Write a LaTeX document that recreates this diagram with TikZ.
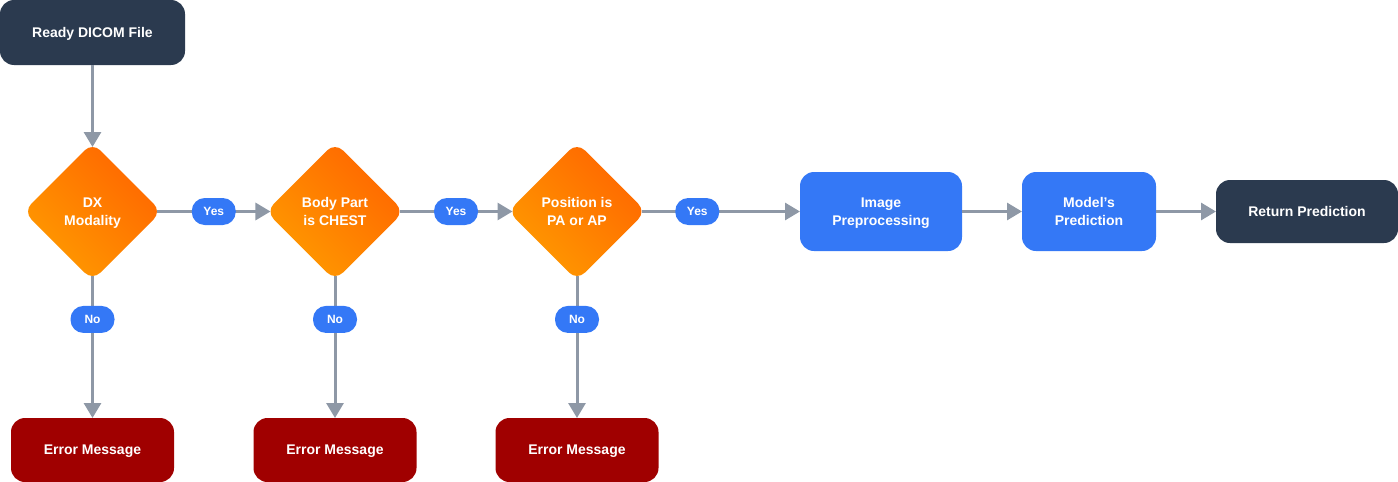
\documentclass[tikz,border=0pt]{standalone}
\usepackage{fontspec}
\setmainfont{Liberation Sans}
\usepackage{tikz}
\usetikzlibrary{shapes.geometric,arrows.meta}
\usepackage{xcolor}
\definecolor{navy}{HTML}{2B3A4F}
\definecolor{flowblue}{HTML}{3478F6}
\definecolor{errred}{HTML}{A00000}
\definecolor{orlight}{HTML}{FF9A00}
\definecolor{ordark}{HTML}{FF6600}
\definecolor{linegray}{HTML}{8E98A6}

\begin{document}
\begin{tikzpicture}[x=1pt,y=-1pt,
    box/.style={rectangle, rounded corners=14pt, text=white, align=center, text depth=0pt,
        inner sep=0pt, outer sep=0pt, font=\bfseries\fontsize{14}{17.5}\selectfont},
    darkbox/.style={box, fill=navy},
    procbox/.style={box, fill=flowblue, minimum height=79pt},
    errbox/.style={box, fill=errred, minimum width=163pt, minimum height=64pt},
    check/.style={diamond, aspect=1, rounded corners=11pt, minimum width=138pt,
        minimum height=138pt, inner sep=0pt, outer sep=0pt, text=white, align=center,
        text depth=0pt, left color=orlight, right color=ordark, shading angle=135,
        font=\bfseries\fontsize{14}{17.5}\selectfont},
    pill/.style={fill=flowblue, text=white, rounded corners=13pt, minimum width=44pt,
        minimum height=27pt, inner sep=0pt, text depth=0pt,
        font=\bfseries\fontsize{12}{13}\selectfont},
    flow/.style={draw=linegray, line width=3pt, -{Triangle[width=17pt,length=15pt]}}]

    \useasboundingbox (0,0) rectangle (1398,482);

    % start
    \node[darkbox, minimum width=185pt, minimum height=65pt] (ready) at (92.5,32.5) {Ready DICOM File};

    % checks on the file
    \node[check] (dx)   at (92.5,211.5) {DX\\Modality};
    \node[check] (body) at (335,211.5)  {Body Part\\is CHEST};
    \node[check] (pos)  at (577,211.5)  {Position is\\PA or AP};

    % error outputs
    \node[errbox] (err1) at (92.5,450) {Error Message};
    \node[errbox] (err2) at (335,450)  {Error Message};
    \node[errbox] (err3) at (577,450)  {Error Message};

    % model pipeline
    \node[procbox, minimum width=162pt] (prep)  at (881,211.5)  {Image\\Preprocessing};
    \node[procbox, minimum width=134pt] (model) at (1089,211.5) {Model’s\\Prediction};
    \node[darkbox, minimum width=182pt, minimum height=63pt] (ret) at (1307,211.5) {Return Prediction};

    % connectors
    \draw[flow, shorten >=-4.5pt] (ready) -- (dx);
    \draw[flow, shorten <=-4.5pt, shorten >=-4.5pt] (dx) -- node[pill] {Yes} (body);
    \draw[flow, shorten <=-4.5pt, shorten >=-4.5pt] (body) -- node[pill] {Yes} (pos);
    \draw[flow, shorten <=-4.5pt] (pos) -- node[pill, pos=0.333] {Yes} (prep);
    \draw[flow] (prep) -- (model);
    \draw[flow] (model) -- (ret);

    \foreach \a/\b in {dx/err1,body/err2,pos/err3}
        \draw[flow, shorten <=-4.5pt] (\a) -- node[pill, pos=0.283] {No} (\b);
\end{tikzpicture}
\end{document}
